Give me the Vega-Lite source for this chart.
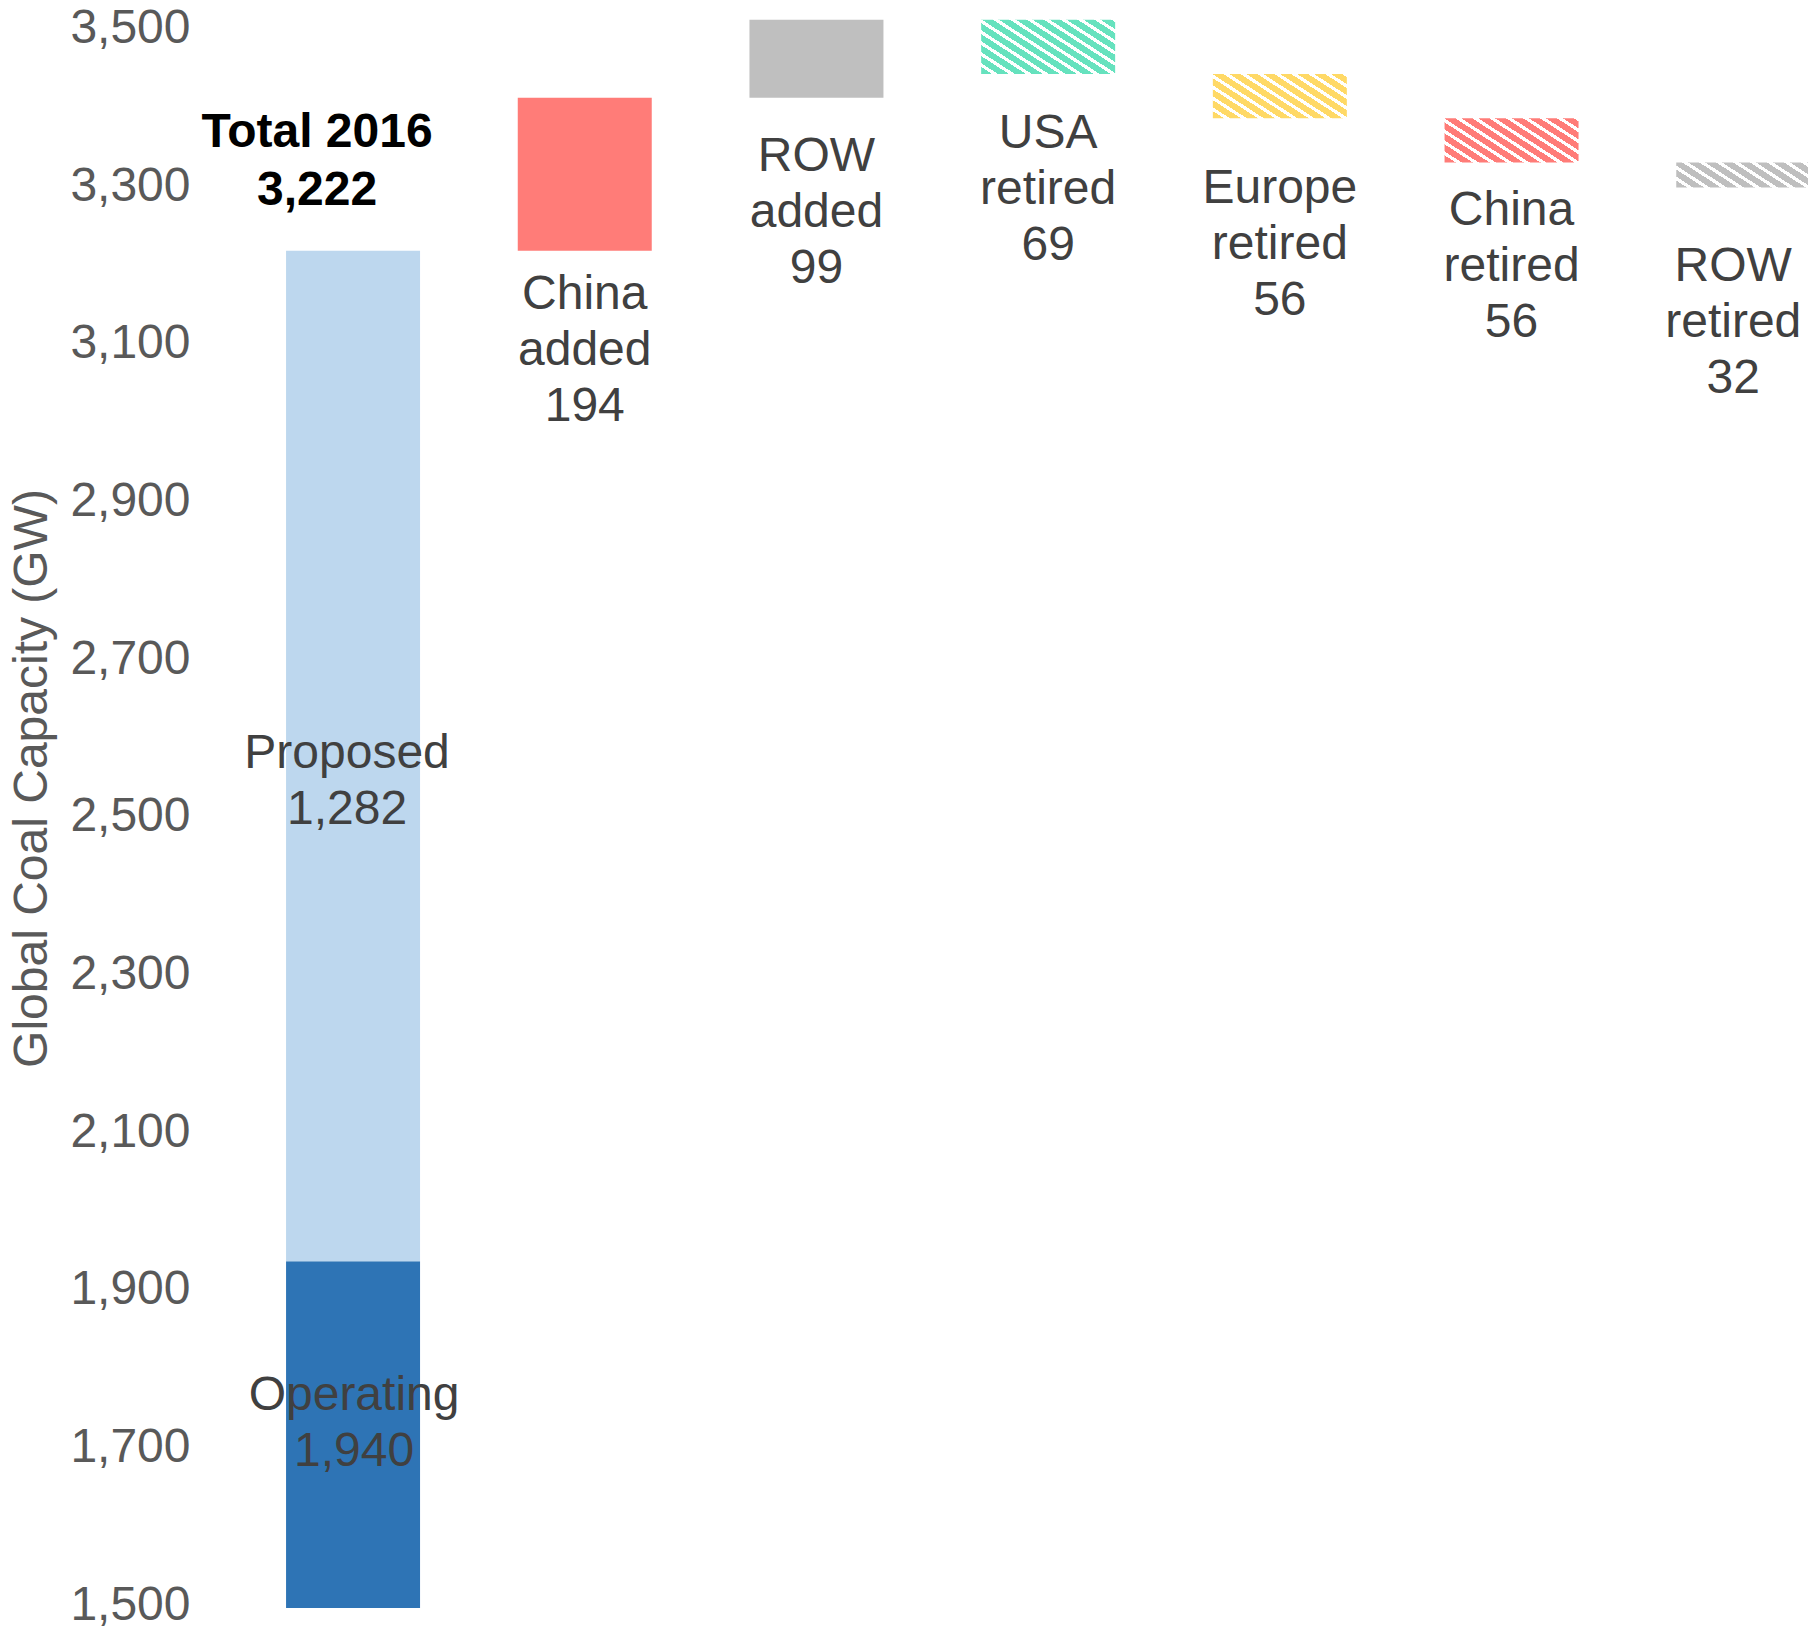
{
  "$schema": "https://vega.github.io/schema/vega-lite/v6.json",
  "width": 1612,
  "height": 1608,
  "autosize": {"type": "none"},
  "padding": {"left": 200, "top": 0, "right": 0, "bottom": 24},
  "background": "white",
  "config": {"view": {"stroke": null}, "font": "Liberation Sans"},
  "resolve": {"axis": {"y": "independent"}},
  "data": {
    "values": [
      {"category": "Total 2016", "series": "Operating", "start": 0, "end": 1940, "value": 1940},
      {"category": "Total 2016", "series": "Proposed", "start": 1940, "end": 3222, "value": 1282},
      {"category": "China added", "series": "China added", "start": 3222, "end": 3416, "value": 194},
      {"category": "ROW added", "series": "ROW added", "start": 3416, "end": 3515, "value": 99},
      {"category": "USA retired", "series": "USA retired", "start": 3515, "end": 3446, "value": 69},
      {"category": "Europe retired", "series": "Europe retired", "start": 3446, "end": 3390, "value": 56},
      {"category": "China retired", "series": "China retired", "start": 3390, "end": 3334, "value": 56},
      {"category": "ROW retired", "series": "ROW retired", "start": 3334, "end": 3302, "value": 32}
    ]
  },
  "transform": [
    {"calculate": "datum.series + ' ' + format(datum.value, ',')", "as": "label"},
    {"calculate": "'Total 2016|' + format(datum.end, ',')", "as": "totalLabel"}
  ],
  "encoding": {
    "x": {
      "field": "category",
      "type": "nominal",
      "sort": null,
      "axis": null,
      "scale": {
        "domain": ["Total 2016", "China added", "ROW added", "USA retired", "Europe retired", "China retired", "ROW retired"],
        "paddingInner": 0.4217,
        "paddingOuter": 0.1895,
        "align": 0.98
      }
    }
  },
  "layer": [
    {
      "transform": [{"filter": {"field": "series", "oneOf": ["Operating", "Proposed", "China added", "ROW added"]}}],
      "mark": {"type": "bar", "clip": true},
      "encoding": {
        "y": {
          "field": "start",
          "type": "quantitative",
          "scale": {"domain": [1500, 3540], "nice": false, "zero": false},
          "axis": {
            "values": [1500, 1700, 1900, 2100, 2300, 2500, 2700, 2900, 3100, 3300, 3500],
            "format": ",.0f",
            "ticks": false,
            "tickSize": 0,
            "domain": false,
            "grid": false,
            "labelFontSize": 48,
            "labelColor": "#595959",
            "labelPadding": 10,
            "labelOffset": -3,
            "title": "Global Coal Capacity (GW)",
            "titleFontSize": 48,
            "titleFontWeight": "normal",
            "titleColor": "#595959",
            "titleAngle": -90,
            "titleX": -168,
            "titleY": 778,
            "titleAlign": "center",
            "titleBaseline": "middle"
          }
        },
        "y2": {"field": "end"},
        "color": {
          "field": "series",
          "type": "nominal",
          "legend": null,
          "scale": {
            "domain": ["Operating", "Proposed", "China added", "ROW added"],
            "range": ["#2E74B5", "#BDD7EE", "#FF7C78", "#BFBFBF"]
          }
        }
      }
    },
    {
      "transform": [{"filter": "datum.series == 'USA retired'"}],
      "mark": {
        "type": "bar",
        "clip": true,
        "color": {
          "gradient": "linear", "x1": 0, "y1": 1, "x2": 1.271, "y2": 0.202,
          "stops": [
            {"offset": 0, "color": "#66E2BE"}, {"offset": 0.0464, "color": "#66E2BE"}, {"offset": 0.0464, "color": "#ffffff"}, {"offset": 0.0714, "color": "#ffffff"},
            {"offset": 0.0714, "color": "#66E2BE"}, {"offset": 0.1179, "color": "#66E2BE"}, {"offset": 0.1179, "color": "#ffffff"}, {"offset": 0.1429, "color": "#ffffff"},
            {"offset": 0.1429, "color": "#66E2BE"}, {"offset": 0.1893, "color": "#66E2BE"}, {"offset": 0.1893, "color": "#ffffff"}, {"offset": 0.2143, "color": "#ffffff"},
            {"offset": 0.2143, "color": "#66E2BE"}, {"offset": 0.2607, "color": "#66E2BE"}, {"offset": 0.2607, "color": "#ffffff"}, {"offset": 0.2857, "color": "#ffffff"},
            {"offset": 0.2857, "color": "#66E2BE"}, {"offset": 0.3321, "color": "#66E2BE"}, {"offset": 0.3321, "color": "#ffffff"}, {"offset": 0.3571, "color": "#ffffff"},
            {"offset": 0.3571, "color": "#66E2BE"}, {"offset": 0.4036, "color": "#66E2BE"}, {"offset": 0.4036, "color": "#ffffff"}, {"offset": 0.4286, "color": "#ffffff"},
            {"offset": 0.4286, "color": "#66E2BE"}, {"offset": 0.475, "color": "#66E2BE"}, {"offset": 0.475, "color": "#ffffff"}, {"offset": 0.5, "color": "#ffffff"},
            {"offset": 0.5, "color": "#66E2BE"}, {"offset": 0.5464, "color": "#66E2BE"}, {"offset": 0.5464, "color": "#ffffff"}, {"offset": 0.5714, "color": "#ffffff"},
            {"offset": 0.5714, "color": "#66E2BE"}, {"offset": 0.6179, "color": "#66E2BE"}, {"offset": 0.6179, "color": "#ffffff"}, {"offset": 0.6429, "color": "#ffffff"},
            {"offset": 0.6429, "color": "#66E2BE"}, {"offset": 0.6893, "color": "#66E2BE"}, {"offset": 0.6893, "color": "#ffffff"}, {"offset": 0.7143, "color": "#ffffff"},
            {"offset": 0.7143, "color": "#66E2BE"}, {"offset": 0.7607, "color": "#66E2BE"}, {"offset": 0.7607, "color": "#ffffff"}, {"offset": 0.7857, "color": "#ffffff"},
            {"offset": 0.7857, "color": "#66E2BE"}, {"offset": 0.8321, "color": "#66E2BE"}, {"offset": 0.8321, "color": "#ffffff"}, {"offset": 0.8571, "color": "#ffffff"},
            {"offset": 0.8571, "color": "#66E2BE"}, {"offset": 0.9036, "color": "#66E2BE"}, {"offset": 0.9036, "color": "#ffffff"}, {"offset": 0.9286, "color": "#ffffff"},
            {"offset": 0.9286, "color": "#66E2BE"}, {"offset": 0.975, "color": "#66E2BE"}, {"offset": 0.975, "color": "#ffffff"}, {"offset": 1, "color": "#ffffff"}
          ]
        }
      },
      "encoding": {
        "y": {"field": "start", "type": "quantitative", "scale": {"domain": [1500, 3540], "nice": false, "zero": false}, "axis": null},
        "y2": {"field": "end"}
      }
    },
    {
      "transform": [{"filter": "datum.series == 'Europe retired'"}],
      "mark": {
        "type": "bar",
        "clip": true,
        "color": {
          "gradient": "linear", "x1": 0, "y1": 1, "x2": 1.407, "y2": 0.284,
          "stops": [
            {"offset": 0, "color": "#FFD966"}, {"offset": 0.0464, "color": "#FFD966"}, {"offset": 0.0464, "color": "#ffffff"}, {"offset": 0.0714, "color": "#ffffff"},
            {"offset": 0.0714, "color": "#FFD966"}, {"offset": 0.1179, "color": "#FFD966"}, {"offset": 0.1179, "color": "#ffffff"}, {"offset": 0.1429, "color": "#ffffff"},
            {"offset": 0.1429, "color": "#FFD966"}, {"offset": 0.1893, "color": "#FFD966"}, {"offset": 0.1893, "color": "#ffffff"}, {"offset": 0.2143, "color": "#ffffff"},
            {"offset": 0.2143, "color": "#FFD966"}, {"offset": 0.2607, "color": "#FFD966"}, {"offset": 0.2607, "color": "#ffffff"}, {"offset": 0.2857, "color": "#ffffff"},
            {"offset": 0.2857, "color": "#FFD966"}, {"offset": 0.3321, "color": "#FFD966"}, {"offset": 0.3321, "color": "#ffffff"}, {"offset": 0.3571, "color": "#ffffff"},
            {"offset": 0.3571, "color": "#FFD966"}, {"offset": 0.4036, "color": "#FFD966"}, {"offset": 0.4036, "color": "#ffffff"}, {"offset": 0.4286, "color": "#ffffff"},
            {"offset": 0.4286, "color": "#FFD966"}, {"offset": 0.475, "color": "#FFD966"}, {"offset": 0.475, "color": "#ffffff"}, {"offset": 0.5, "color": "#ffffff"},
            {"offset": 0.5, "color": "#FFD966"}, {"offset": 0.5464, "color": "#FFD966"}, {"offset": 0.5464, "color": "#ffffff"}, {"offset": 0.5714, "color": "#ffffff"},
            {"offset": 0.5714, "color": "#FFD966"}, {"offset": 0.6179, "color": "#FFD966"}, {"offset": 0.6179, "color": "#ffffff"}, {"offset": 0.6429, "color": "#ffffff"},
            {"offset": 0.6429, "color": "#FFD966"}, {"offset": 0.6893, "color": "#FFD966"}, {"offset": 0.6893, "color": "#ffffff"}, {"offset": 0.7143, "color": "#ffffff"},
            {"offset": 0.7143, "color": "#FFD966"}, {"offset": 0.7607, "color": "#FFD966"}, {"offset": 0.7607, "color": "#ffffff"}, {"offset": 0.7857, "color": "#ffffff"},
            {"offset": 0.7857, "color": "#FFD966"}, {"offset": 0.8321, "color": "#FFD966"}, {"offset": 0.8321, "color": "#ffffff"}, {"offset": 0.8571, "color": "#ffffff"},
            {"offset": 0.8571, "color": "#FFD966"}, {"offset": 0.9036, "color": "#FFD966"}, {"offset": 0.9036, "color": "#ffffff"}, {"offset": 0.9286, "color": "#ffffff"},
            {"offset": 0.9286, "color": "#FFD966"}, {"offset": 0.975, "color": "#FFD966"}, {"offset": 0.975, "color": "#ffffff"}, {"offset": 1, "color": "#ffffff"}
          ]
        }
      },
      "encoding": {
        "y": {"field": "start", "type": "quantitative", "scale": {"domain": [1500, 3540], "nice": false, "zero": false}, "axis": null},
        "y2": {"field": "end"}
      }
    },
    {
      "transform": [{"filter": "datum.series == 'China retired'"}],
      "mark": {
        "type": "bar",
        "clip": true,
        "color": {
          "gradient": "linear", "x1": 0, "y1": 1, "x2": 1.407, "y2": 0.284,
          "stops": [
            {"offset": 0, "color": "#FF7C78"}, {"offset": 0.0464, "color": "#FF7C78"}, {"offset": 0.0464, "color": "#ffffff"}, {"offset": 0.0714, "color": "#ffffff"},
            {"offset": 0.0714, "color": "#FF7C78"}, {"offset": 0.1179, "color": "#FF7C78"}, {"offset": 0.1179, "color": "#ffffff"}, {"offset": 0.1429, "color": "#ffffff"},
            {"offset": 0.1429, "color": "#FF7C78"}, {"offset": 0.1893, "color": "#FF7C78"}, {"offset": 0.1893, "color": "#ffffff"}, {"offset": 0.2143, "color": "#ffffff"},
            {"offset": 0.2143, "color": "#FF7C78"}, {"offset": 0.2607, "color": "#FF7C78"}, {"offset": 0.2607, "color": "#ffffff"}, {"offset": 0.2857, "color": "#ffffff"},
            {"offset": 0.2857, "color": "#FF7C78"}, {"offset": 0.3321, "color": "#FF7C78"}, {"offset": 0.3321, "color": "#ffffff"}, {"offset": 0.3571, "color": "#ffffff"},
            {"offset": 0.3571, "color": "#FF7C78"}, {"offset": 0.4036, "color": "#FF7C78"}, {"offset": 0.4036, "color": "#ffffff"}, {"offset": 0.4286, "color": "#ffffff"},
            {"offset": 0.4286, "color": "#FF7C78"}, {"offset": 0.475, "color": "#FF7C78"}, {"offset": 0.475, "color": "#ffffff"}, {"offset": 0.5, "color": "#ffffff"},
            {"offset": 0.5, "color": "#FF7C78"}, {"offset": 0.5464, "color": "#FF7C78"}, {"offset": 0.5464, "color": "#ffffff"}, {"offset": 0.5714, "color": "#ffffff"},
            {"offset": 0.5714, "color": "#FF7C78"}, {"offset": 0.6179, "color": "#FF7C78"}, {"offset": 0.6179, "color": "#ffffff"}, {"offset": 0.6429, "color": "#ffffff"},
            {"offset": 0.6429, "color": "#FF7C78"}, {"offset": 0.6893, "color": "#FF7C78"}, {"offset": 0.6893, "color": "#ffffff"}, {"offset": 0.7143, "color": "#ffffff"},
            {"offset": 0.7143, "color": "#FF7C78"}, {"offset": 0.7607, "color": "#FF7C78"}, {"offset": 0.7607, "color": "#ffffff"}, {"offset": 0.7857, "color": "#ffffff"},
            {"offset": 0.7857, "color": "#FF7C78"}, {"offset": 0.8321, "color": "#FF7C78"}, {"offset": 0.8321, "color": "#ffffff"}, {"offset": 0.8571, "color": "#ffffff"},
            {"offset": 0.8571, "color": "#FF7C78"}, {"offset": 0.9036, "color": "#FF7C78"}, {"offset": 0.9036, "color": "#ffffff"}, {"offset": 0.9286, "color": "#ffffff"},
            {"offset": 0.9286, "color": "#FF7C78"}, {"offset": 0.975, "color": "#FF7C78"}, {"offset": 0.975, "color": "#ffffff"}, {"offset": 1, "color": "#ffffff"}
          ]
        }
      },
      "encoding": {
        "y": {"field": "start", "type": "quantitative", "scale": {"domain": [1500, 3540], "nice": false, "zero": false}, "axis": null},
        "y2": {"field": "end"}
      }
    },
    {
      "transform": [{"filter": "datum.series == 'ROW retired'"}],
      "mark": {
        "type": "bar",
        "clip": true,
        "color": {
          "gradient": "linear", "x1": 0, "y1": 1, "x2": 1.633, "y2": 0.525,
          "stops": [
            {"offset": 0, "color": "#BFBFBF"}, {"offset": 0.0464, "color": "#BFBFBF"}, {"offset": 0.0464, "color": "#ffffff"}, {"offset": 0.0714, "color": "#ffffff"},
            {"offset": 0.0714, "color": "#BFBFBF"}, {"offset": 0.1179, "color": "#BFBFBF"}, {"offset": 0.1179, "color": "#ffffff"}, {"offset": 0.1429, "color": "#ffffff"},
            {"offset": 0.1429, "color": "#BFBFBF"}, {"offset": 0.1893, "color": "#BFBFBF"}, {"offset": 0.1893, "color": "#ffffff"}, {"offset": 0.2143, "color": "#ffffff"},
            {"offset": 0.2143, "color": "#BFBFBF"}, {"offset": 0.2607, "color": "#BFBFBF"}, {"offset": 0.2607, "color": "#ffffff"}, {"offset": 0.2857, "color": "#ffffff"},
            {"offset": 0.2857, "color": "#BFBFBF"}, {"offset": 0.3321, "color": "#BFBFBF"}, {"offset": 0.3321, "color": "#ffffff"}, {"offset": 0.3571, "color": "#ffffff"},
            {"offset": 0.3571, "color": "#BFBFBF"}, {"offset": 0.4036, "color": "#BFBFBF"}, {"offset": 0.4036, "color": "#ffffff"}, {"offset": 0.4286, "color": "#ffffff"},
            {"offset": 0.4286, "color": "#BFBFBF"}, {"offset": 0.475, "color": "#BFBFBF"}, {"offset": 0.475, "color": "#ffffff"}, {"offset": 0.5, "color": "#ffffff"},
            {"offset": 0.5, "color": "#BFBFBF"}, {"offset": 0.5464, "color": "#BFBFBF"}, {"offset": 0.5464, "color": "#ffffff"}, {"offset": 0.5714, "color": "#ffffff"},
            {"offset": 0.5714, "color": "#BFBFBF"}, {"offset": 0.6179, "color": "#BFBFBF"}, {"offset": 0.6179, "color": "#ffffff"}, {"offset": 0.6429, "color": "#ffffff"},
            {"offset": 0.6429, "color": "#BFBFBF"}, {"offset": 0.6893, "color": "#BFBFBF"}, {"offset": 0.6893, "color": "#ffffff"}, {"offset": 0.7143, "color": "#ffffff"},
            {"offset": 0.7143, "color": "#BFBFBF"}, {"offset": 0.7607, "color": "#BFBFBF"}, {"offset": 0.7607, "color": "#ffffff"}, {"offset": 0.7857, "color": "#ffffff"},
            {"offset": 0.7857, "color": "#BFBFBF"}, {"offset": 0.8321, "color": "#BFBFBF"}, {"offset": 0.8321, "color": "#ffffff"}, {"offset": 0.8571, "color": "#ffffff"},
            {"offset": 0.8571, "color": "#BFBFBF"}, {"offset": 0.9036, "color": "#BFBFBF"}, {"offset": 0.9036, "color": "#ffffff"}, {"offset": 0.9286, "color": "#ffffff"},
            {"offset": 0.9286, "color": "#BFBFBF"}, {"offset": 0.975, "color": "#BFBFBF"}, {"offset": 0.975, "color": "#ffffff"}, {"offset": 1, "color": "#ffffff"}
          ]
        }
      },
      "encoding": {
        "y": {"field": "start", "type": "quantitative", "scale": {"domain": [1500, 3540], "nice": false, "zero": false}, "axis": null},
        "y2": {"field": "end"}
      }
    },
    {
      "transform": [{"filter": "datum.series == 'Proposed'"}],
      "mark": {"type": "text", "fontSize": 48, "fontWeight": "bold", "color": "#000000", "align": "center", "baseline": "top", "lineBreak": "|", "lineHeight": 58, "dx": -36, "dy": -142},
      "encoding": {
        "y": {"field": "end", "type": "quantitative", "scale": {"domain": [1500, 3540], "nice": false, "zero": false}, "axis": null},
        "text": {"field": "totalLabel", "type": "nominal"}
      }
    },
    {
      "transform": [{"filter": "datum.series == 'Proposed'"}],
      "mark": {"type": "text", "fontSize": 48, "color": "#404040", "align": "center", "baseline": "top", "lineBreak": " ", "lineHeight": 56, "dx": -6, "dy": 479},
      "encoding": {
        "y": {"field": "end", "type": "quantitative", "scale": {"domain": [1500, 3540], "nice": false, "zero": false}, "axis": null},
        "text": {"field": "label", "type": "nominal"}
      }
    },
    {
      "transform": [{"filter": "datum.series == 'Operating'"}],
      "mark": {"type": "text", "fontSize": 48, "color": "#404040", "align": "center", "baseline": "top", "lineBreak": " ", "lineHeight": 56, "dx": 1, "dy": 111},
      "encoding": {
        "y": {"field": "end", "type": "quantitative", "scale": {"domain": [1500, 3540], "nice": false, "zero": false}, "axis": null},
        "text": {"field": "label", "type": "nominal"}
      }
    },
    {
      "transform": [{"filter": "datum.series == 'China added'"}],
      "mark": {"type": "text", "fontSize": 48, "color": "#404040", "align": "center", "baseline": "top", "lineBreak": " ", "lineHeight": 56, "dy": 20},
      "encoding": {
        "y": {"field": "start", "type": "quantitative", "scale": {"domain": [1500, 3540], "nice": false, "zero": false}, "axis": null},
        "text": {"field": "label", "type": "nominal"}
      }
    },
    {
      "transform": [{"filter": "datum.series == 'ROW added'"}],
      "mark": {"type": "text", "fontSize": 48, "color": "#404040", "align": "center", "baseline": "top", "lineBreak": " ", "lineHeight": 56, "dy": 35},
      "encoding": {
        "y": {"field": "start", "type": "quantitative", "scale": {"domain": [1500, 3540], "nice": false, "zero": false}, "axis": null},
        "text": {"field": "label", "type": "nominal"}
      }
    },
    {
      "transform": [{"filter": "datum.series == 'USA retired'"}],
      "mark": {"type": "text", "fontSize": 48, "color": "#404040", "align": "center", "baseline": "top", "lineBreak": " ", "lineHeight": 56, "dy": 36},
      "encoding": {
        "y": {"field": "end", "type": "quantitative", "scale": {"domain": [1500, 3540], "nice": false, "zero": false}, "axis": null},
        "text": {"field": "label", "type": "nominal"}
      }
    },
    {
      "transform": [{"filter": "datum.series == 'Europe retired'"}],
      "mark": {"type": "text", "fontSize": 48, "color": "#404040", "align": "center", "baseline": "top", "lineBreak": " ", "lineHeight": 56, "dy": 47},
      "encoding": {
        "y": {"field": "end", "type": "quantitative", "scale": {"domain": [1500, 3540], "nice": false, "zero": false}, "axis": null},
        "text": {"field": "label", "type": "nominal"}
      }
    },
    {
      "transform": [{"filter": "datum.series == 'China retired'"}],
      "mark": {"type": "text", "fontSize": 48, "color": "#404040", "align": "center", "baseline": "top", "lineBreak": " ", "lineHeight": 56, "dy": 25},
      "encoding": {
        "y": {"field": "end", "type": "quantitative", "scale": {"domain": [1500, 3540], "nice": false, "zero": false}, "axis": null},
        "text": {"field": "label", "type": "nominal"}
      }
    },
    {
      "transform": [{"filter": "datum.series == 'ROW retired'"}],
      "mark": {"type": "text", "fontSize": 48, "color": "#404040", "align": "center", "baseline": "top", "lineBreak": " ", "lineHeight": 56, "dx": -10, "dy": 55},
      "encoding": {
        "y": {"field": "end", "type": "quantitative", "scale": {"domain": [1500, 3540], "nice": false, "zero": false}, "axis": null},
        "text": {"field": "label", "type": "nominal"}
      }
    }
  ]
}
